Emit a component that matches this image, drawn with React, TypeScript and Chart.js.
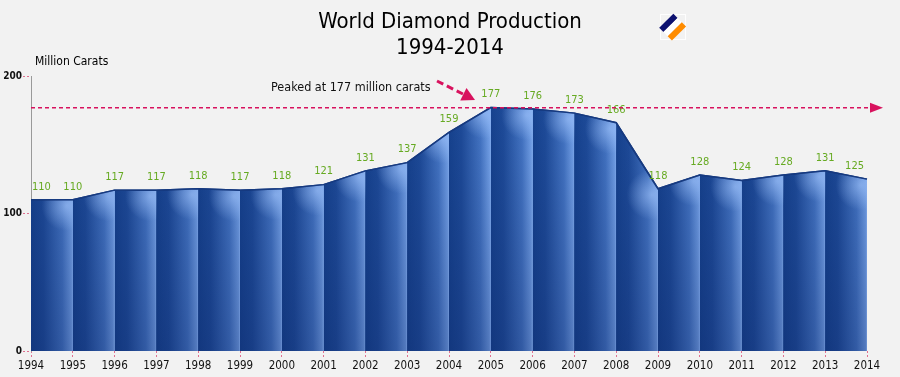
import React, { useEffect, useRef } from "react";
import { Chart, registerables } from "chart.js";

Chart.register(...registerables);

const years = ["1994","1995","1996","1997","1998","1999","2000","2001","2002","2003","2004","2005","2006","2007","2008","2009","2010","2011","2012","2013","2014"];
const production = [110,110,117,117,118,117,118,121,131,137,159,177,176,173,166,118,128,124,128,131,125];
const peakValue = 177;
const yTicks = [0, 100, 200];
const titleLines = ["World Diamond Production", "1994-2014"];
const yAxisTitle = "Million Carats";
const peakNote = "Peaked at 177 million carats";

const FONT = "'DejaVu Sans Condensed', 'DejaVu Sans', Verdana, sans-serif";
const PINK = "#d8125e";

const decorPlugin = {
  id: "decor",
  beforeDraw(chart: any) {
    const c = chart.ctx;
    c.save();
    c.fillStyle = "#f2f2f2";
    c.fillRect(0, 0, chart.width, chart.height);
    c.restore();
  },
  afterDatasetsDraw(chart: any) {
    const c = chart.ctx;
    const xs = chart.scales.x;
    const ys = chart.scales.y;
    const area = chart.chartArea;
    const meta = chart.getDatasetMeta(0);
    const pts = meta.data;
    const base = ys.getPixelForValue(0);

    // shading clipped to the area shape
    c.save();
    c.beginPath();
    c.moveTo(pts[0].x, base);
    pts.forEach((p: any) => c.lineTo(p.x, p.y));
    c.lineTo(pts[pts.length - 1].x, base);
    c.closePath();
    c.clip();
    const vg = c.createLinearGradient(0, ys.getPixelForValue(180), 0, base);
    vg.addColorStop(0, "rgba(10,30,90,0)");
    vg.addColorStop(1, "rgba(10,30,90,0.3)");
    c.fillStyle = vg;
    c.fillRect(area.left, area.top, area.right - area.left, base - area.top);
    for (let i = 0; i < pts.length - 1; i++) {
      const a = pts[i], b = pts[i + 1];
      const w = b.x - a.x;
      const cx = b.x - w * 0.15;
      const cy = b.y + 6;
      const rg = c.createRadialGradient(cx, cy, 0, cx, cy, w * 0.6);
      rg.addColorStop(0, "rgba(165,200,255,0.6)");
      rg.addColorStop(1, "rgba(165,200,255,0)");
      c.fillStyle = rg;
      c.fillRect(a.x, area.top, w, base - area.top);
      c.fillStyle = "rgba(140,175,235,0.3)";
      c.fillRect(b.x - 1, area.top, 1, base - area.top);
    }
    c.restore();

    // redraw top line
    c.save();
    c.strokeStyle = "#163a80";
    c.lineWidth = 1.5;
    c.beginPath();
    pts.forEach((p: any, i: number) => (i ? c.lineTo(p.x, p.y) : c.moveTo(p.x, p.y)));
    c.stroke();
    c.restore();

    // data labels
    c.save();
    c.fillStyle = "#66aa22";
    c.font = `11px ${FONT}`;
    c.textAlign = "center";
    c.textBaseline = "middle";
    pts.forEach((p: any, i: number) => {
      const t = String(production[i]);
      const hw = c.measureText(t).width / 2;
      let x = p.x;
      x = Math.max(x, area.left + 1 + hw);
      x = Math.min(x, area.right - 3 - hw);
      c.fillText(t, x, p.y - 13);
    });
    c.restore();

    // peak line
    const py = ys.getPixelForValue(peakValue);
    const x0 = xs.getPixelForValue(0);
    c.save();
    c.strokeStyle = PINK;
    c.lineWidth = 1.5;
    c.setLineDash([4, 3]);
    c.beginPath();
    c.moveTo(x0, py);
    c.lineTo(872, py);
    c.stroke();
    c.setLineDash([]);
    c.fillStyle = PINK;
    c.beginPath();
    c.moveTo(870, py - 5);
    c.lineTo(883, py);
    c.lineTo(870, py + 5);
    c.closePath();
    c.fill();
    c.restore();

    // note and arrow
    c.save();
    c.fillStyle = "#111";
    c.font = `12.5px ${FONT}`;
    c.textAlign = "left";
    c.textBaseline = "middle";
    c.fillText(peakNote, 271, 88);
    const sx = 437, sy = 81, tx = 475, ty = 100;
    const dx = tx - sx, dy = ty - sy;
    const len = Math.hypot(dx, dy);
    const ux = dx / len, uy = dy / len;
    const headLen = 13, headHalf = 7;
    const bx = tx - ux * headLen, by = ty - uy * headLen;
    c.strokeStyle = PINK;
    c.lineWidth = 3;
    c.setLineDash([7, 4]);
    c.beginPath();
    c.moveTo(sx, sy);
    c.lineTo(bx, by);
    c.stroke();
    c.setLineDash([]);
    c.fillStyle = PINK;
    c.beginPath();
    c.moveTo(tx, ty);
    c.lineTo(bx - uy * headHalf, by + ux * headHalf);
    c.lineTo(bx + uy * headHalf, by - ux * headHalf);
    c.closePath();
    c.fill();
    c.restore();

    // titles
    c.save();
    c.fillStyle = "#000";
    c.textAlign = "center";
    c.textBaseline = "middle";
    c.font = `22px ${FONT}`;
    c.fillText(titleLines[0], 450, 22);
    c.fillText(titleLines[1], 450, 48);
    c.font = `12px ${FONT}`;
    c.textAlign = "left";
    c.fillText(yAxisTitle, 35, 62);
    c.restore();

    // logo
    c.save();
    c.strokeStyle = "rgba(255,255,255,0.9)";
    c.lineWidth = 1;
    c.strokeRect(660.5, 14.5, 25, 25);
    c.translate(673, 27.5);
    c.rotate(-Math.PI / 4);
    c.fillStyle = "#0d1170";
    c.fillRect(-10, -9.5, 20, 6);
    c.fillStyle = "#ffffff";
    c.fillRect(-10, -3.5, 20, 6);
    c.fillStyle = "#ff8c00";
    c.fillRect(-10, 2.5, 20, 6);
    c.restore();
  },
};

function areaGradient(ctx: any) {
  const chart = ctx.chart;
  if (!chart.chartArea) return "#1a4590";
  const xs = chart.scales.x;
  const n = years.length;
  const x0 = xs.getPixelForValue(0);
  const x1 = xs.getPixelForValue(n - 1);
  const g = chart.ctx.createLinearGradient(x0, 0, x1, 0);
  for (let i = 0; i < n - 1; i++) {
    const a = i / (n - 1);
    const b = (i + 1) / (n - 1);
    const w = b - a;
    g.addColorStop(a, "#16428e");
    g.addColorStop(a + w * 0.3, "#1e4b99");
    g.addColorStop(a + w * 0.75, "#4475c4");
    g.addColorStop(b, "#7aa8ee");
  }
  return g;
}

export default function App() {
  const ref = useRef<HTMLCanvasElement>(null);
  useEffect(() => {
    const chart = new Chart(ref.current!, {
      type: "line",
      data: {
        labels: years,
        datasets: [
          {
            data: production,
            borderColor: "#163a80",
            borderWidth: 1.5,
            backgroundColor: areaGradient,
            fill: "origin",
            pointRadius: 0,
            tension: 0,
          },
        ],
      },
      plugins: [decorPlugin],
      options: {
        animation: false,
        responsive: false,
        devicePixelRatio: 1,
        layout: { padding: { top: 76, right: 33, left: 0, bottom: 0 } },
        plugins: { legend: { display: false }, tooltip: { enabled: false }, title: { display: false } },
        scales: {
          x: {
            type: "category",
            offset: false,
            afterFit: (s: any) => { s.height = 26; },
            grid: {
              drawOnChartArea: false,
              drawTicks: true,
              tickLength: 7,
              color: "#e07090",
              tickBorderDash: [2, 2],
            },
            border: { display: false },
            ticks: {
              color: "#111",
              font: { family: FONT, size: 11.5 },
              padding: 1,
              maxRotation: 0,
              autoSkip: false,
            },
          },
          y: {
            min: 0,
            max: 200,
            afterFit: (s: any) => { s.width = 31; },
            afterBuildTicks: (s: any) => { s.ticks = yTicks.map((v) => ({ value: v })); },
            grid: {
              drawOnChartArea: false,
              tickLength: 8,
              color: "#e07090",
              tickBorderDash: [2, 2],
            },
            border: { display: true, color: "#9a9a9a", width: 1 },
            ticks: {
              color: "#111",
              font: { family: FONT, size: 10, weight: "bold" },
              padding: 1,
            },
          },
        },
      },
    });
    return () => chart.destroy();
  }, []);
  return (
    <div style={{ position: "absolute", left: 0, top: 0, width: 900, height: 377 }}>
      <canvas ref={ref} width={900} height={377} style={{ width: 900, height: 377, display: "block" }} />
    </div>
  );
}
